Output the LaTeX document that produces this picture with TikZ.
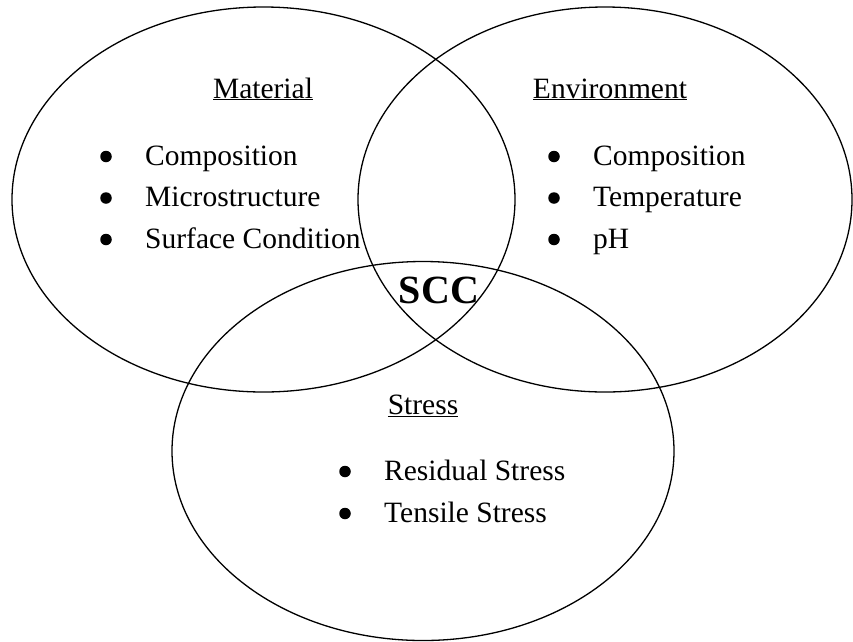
\documentclass[tikz,border=0pt]{standalone}
\usepackage{fontspec}
\setmainfont{Liberation Serif}
\usepackage{tikz}
\tikzstyle{ring}=[draw,line width=1.3pt]
\tikzstyle{heading}=[anchor=base,inner sep=0pt,font=\fontsize{29.5}{35}\selectfont]
\tikzstyle{item}=[anchor=base west,inner sep=0pt,font=\fontsize{29.5}{35}\selectfont]
\tikzstyle{dot}=[circle,fill=black,inner sep=0pt,minimum size=11.5pt]
\tikzstyle{core}=[anchor=base,inner sep=0pt,font=\fontsize{40}{44}\selectfont\bfseries]

\begin{document}
\begin{tikzpicture}[x=1pt,y=-1pt]
    \useasboundingbox (0,0) rectangle (853,641);
    % First we draw the three ellipses
    \foreach \pos/\rx/\ry in {{(263.5,199.5)/251.5/192.5}, {(605,199.5)/247/192.5}, {(423,451)/251/189.5}}
        \draw[ring] \pos ellipse [x radius=\rx pt, y radius=\ry pt];
    % Headings
    \node[heading] (material) at (263,98) {\underline{Material}};
    \node[heading] (environment) at (610,98) {\underline{Environment}};
    \node[heading] (stress) at (423,414) {\underline{Stress}};
    \node[core] (scc) at (439,303) {SCC};
    % Then the bullet lists
    \foreach \txt [count=\i] in {Composition, Microstructure, Surface Condition} {
        \node[dot] (matdot\i) at (106,{115+41.5*\i}) {};
        \node[item] (mat\i) at (145,{123.5+41.5*\i}) {\txt};
    }
    \foreach \txt [count=\i] in {Composition, Temperature, pH} {
        \node[dot] (envdot\i) at (554,{115+41.5*\i}) {};
        \node[item] (env\i) at (593,{123.5+41.5*\i}) {\txt};
    }
    \foreach \txt [count=\i] in {Residual Stress, Tensile Stress} {
        \node[dot] (strdot\i) at (345,{429.5+42*\i}) {};
        \node[item] (str\i) at (384,{438+42*\i}) {\txt};
    }
\end{tikzpicture}
\end{document}
